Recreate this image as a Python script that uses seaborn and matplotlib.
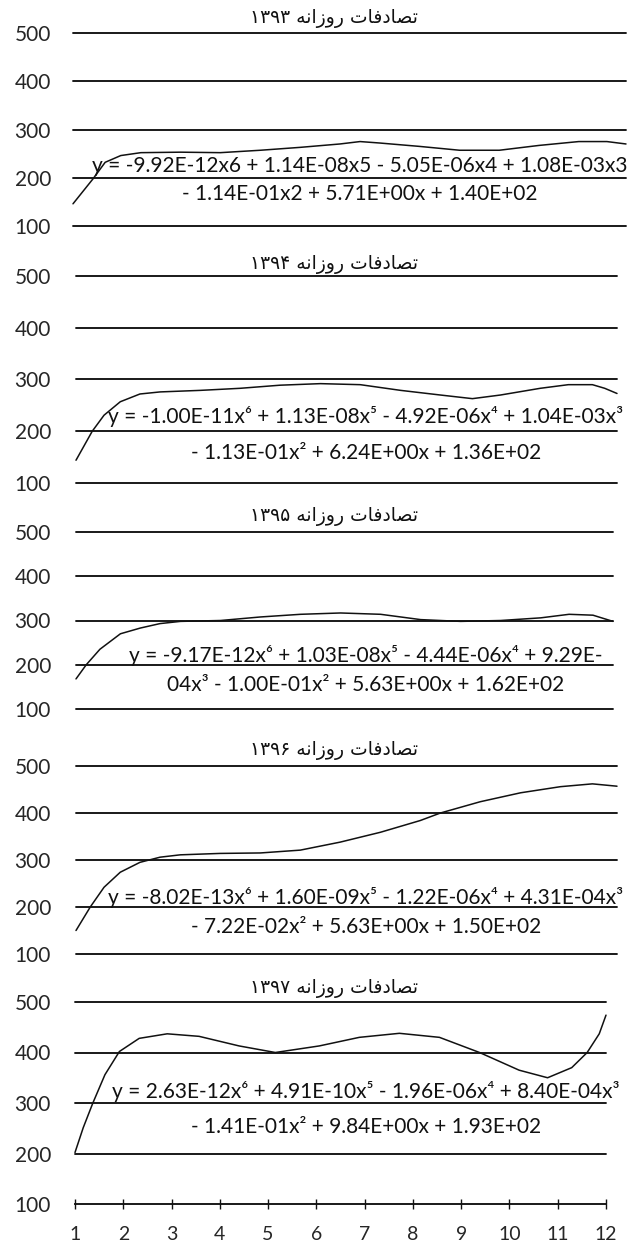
import matplotlib
matplotlib.use("Agg")
import matplotlib.pyplot as plt
import seaborn as sns
import pandas as pd

# ---------------- data ----------------
titles = [
    "تصادفات روزانه ۱۳۹۳",
    "تصادفات روزانه ۱۳۹۴",
    "تصادفات روزانه ۱۳۹۵",
    "تصادفات روزانه ۱۳۹۶",
    "تصادفات روزانه ۱۳۹۷",
]

eq_line1 = [
    "y = -9.92E-12x6 + 1.14E-08x5 - 5.05E-06x4 + 1.08E-03x3",
    "y = -1.00E-11x⁶ + 1.13E-08x⁵ - 4.92E-06x⁴ + 1.04E-03x³",
    "y = -9.17E-12x⁶ + 1.03E-08x⁵ - 4.44E-06x⁴ + 9.29E-",
    "y = -8.02E-13x⁶ + 1.60E-09x⁵ - 1.22E-06x⁴ + 4.31E-04x³",
    "y = 2.63E-12x⁶ + 4.91E-10x⁵ - 1.96E-06x⁴ + 8.40E-04x³",
]
eq_line2 = [
    "- 1.14E-01x2 + 5.71E+00x + 1.40E+02",
    "- 1.13E-01x² + 6.24E+00x + 1.36E+02",
    "04x³ - 1.00E-01x² + 5.63E+00x + 1.62E+02",
    "- 7.22E-02x² + 5.63E+00x + 1.50E+02",
    "- 1.41E-01x² + 9.84E+00x + 1.93E+02",
]

y_ticks = [100, 200, 300, 400, 500]
x_ticks = list(range(1, 13))

curve_1393_x = [1.0, 1.40, 1.64, 1.95, 2.35, 3.14, 3.93, 4.73, 5.52, 6.31, 6.71, 7.10, 7.89, 8.69, 9.48, 10.27, 11.06, 11.62, 12.0]
curve_1393_y = [146, 198, 232, 246, 252, 253, 252, 257, 263, 270, 275, 272, 265, 257, 257, 267, 275, 275, 270]

curve_1394_x = [1.0, 1.33, 1.57, 1.90, 2.30, 2.71, 3.53, 4.34, 5.15, 5.97, 6.78, 7.60, 8.41, 9.06, 9.63, 10.44, 11.01, 11.50, 11.75, 12.0]
curve_1394_y = [144, 200, 231, 257, 272, 276, 279, 283, 289, 292, 290, 279, 270, 263, 270, 283, 290, 290, 283, 273]

curve_1395_x = [1.0, 1.21, 1.49, 1.91, 2.32, 2.72, 3.14, 3.96, 4.78, 5.60, 6.42, 7.24, 8.06, 8.88, 9.70, 10.52, 11.10, 11.59, 12.0]
curve_1395_y = [168, 200, 235, 270, 283, 293, 298, 300, 308, 314, 317, 314, 302, 298, 300, 306, 314, 312, 298]

curve_1396_x = [1.0, 1.29, 1.57, 1.90, 2.30, 2.71, 3.12, 3.93, 4.75, 5.56, 6.37, 7.19, 8.00, 8.41, 9.22, 10.04, 10.85, 11.50, 12.0]
curve_1396_y = [150, 200, 242, 274, 295, 306, 311, 314, 315, 321, 338, 359, 384, 400, 424, 443, 456, 462, 457]

curve_1397_x = [1.0, 1.17, 1.37, 1.62, 1.92, 2.33, 2.91, 3.57, 4.40, 5.15, 6.06, 6.89, 7.72, 8.55, 9.38, 10.2, 10.79, 11.29, 11.61, 11.86, 12.0]
curve_1397_y = [202, 251, 300, 356, 402, 428, 437, 432, 413, 400, 413, 430, 438, 430, 400, 365, 350, 370, 400, 437, 474]

curves_x = [curve_1393_x, curve_1394_x, curve_1395_x, curve_1396_x, curve_1397_x]
curves_y = [curve_1393_y, curve_1394_y, curve_1395_y, curve_1396_y, curve_1397_y]

# ------------- minimal Arabic shaping (presentation forms) -------------
_FORMS = {
    'ا': (0xFE8D, 0xFE8E, None, None),
    'ت': (0xFE95, 0xFE96, 0xFE97, 0xFE98),
    'ص': (0xFEB9, 0xFEBA, 0xFEBB, 0xFEBC),
    'د': (0xFEA9, 0xFEAA, None, None),
    'ف': (0xFED1, 0xFED2, 0xFED3, 0xFED4),
    'ر': (0xFEAD, 0xFEAE, None, None),
    'و': (0xFEED, 0xFEEE, None, None),
    'ز': (0xFEAF, 0xFEB0, None, None),
    'ن': (0xFEE5, 0xFEE6, 0xFEE7, 0xFEE8),
    'ه': (0xFEE9, 0xFEEA, 0xFEEB, 0xFEEC),
}


def shape_word(w):
    out = []
    for i, ch in enumerate(w):
        f = _FORMS.get(ch)
        if f is None:
            out.append(ch)
            continue
        prev = w[i - 1] if i > 0 else None
        nxt = w[i + 1] if i < len(w) - 1 else None
        jp = prev in _FORMS and _FORMS[prev][2] is not None
        jn = nxt in _FORMS and f[2] is not None
        if jp and jn:
            code = f[3]
        elif jp:
            code = f[1]
        elif jn:
            code = f[2]
        else:
            code = f[0]
        out.append(chr(code))
    return "".join(out)


def visual(text):
    vis = []
    for t in text.split(" "):
        if any(c in _FORMS for c in t):
            vis.append(shape_word(t)[::-1])
        else:
            vis.append(t)
    return " ".join(vis[::-1])


# ---------------- layout ----------------
W, H, DPI = 628, 1243, 100
sns.set_theme(style="white")
plt.rcParams["font.family"] = ["Lato", "DejaVu Sans"]

panels = [  # pixel geometry: x of month 1, x of month 12, y of 500, y of 100
    (73, 626, 33, 226),
    (76, 617, 276, 483),
    (76, 613, 532, 709),
    (76, 617, 766, 954),
    (75, 606, 1002, 1204),
]
title_y = [19, 264, 517, 750, 989]
eq_y = [(166, 194), (416, 453), (655, 685), (897, 927), (1092, 1127)]
eq_x = [360, 366, 366, 366, 366]
title_x = 334

fig = plt.figure(figsize=(W / DPI, H / DPI), dpi=DPI)
fig.patch.set_facecolor("white")

for i, (x0, x1, y5, y1) in enumerate(panels):
    ax = fig.add_axes([x0 / W, 1 - y1 / H, (x1 - x0) / W, (y1 - y5) / H])
    ax.set_facecolor("none")
    ax.set_xlim(1, 12)
    ax.set_ylim(100, 500)
    for s in ax.spines.values():
        s.set_visible(False)
    last = i == len(panels) - 1
    for v in y_ticks:
        if last and v == 100:
            continue
        ax.axhline(v, color="#111111", lw=1.35, clip_on=False, zorder=1)

    df = pd.DataFrame({"month": curves_x[i], "value": curves_y[i]})
    sns.lineplot(data=df, x="month", y="value", ax=ax, color="#111111",
                 lw=1.1, sort=False, estimator=None, zorder=3)
    for ln in ax.lines:
        ln.set_clip_on(False)

    ax.set_yticks(y_ticks)
    ax.set_yticklabels([str(v) for v in y_ticks])
    ax.tick_params(axis="y", length=0, pad=(x0 - 51) * 72 / DPI,
                   labelsize=15, labelcolor="#262626")
    ax.set_xlabel("")
    ax.set_ylabel("")
    if last:
        ax.spines["bottom"].set_visible(True)
        ax.spines["bottom"].set_color("#111111")
        ax.spines["bottom"].set_linewidth(1.35)
        ax.set_xticks(x_ticks)
        ax.set_xticklabels([str(v) for v in x_ticks])
        ax.tick_params(axis="x", bottom=True, direction="inout", length=7,
                       width=1.0, color="#111111", pad=12,
                       labelsize=14, labelcolor="#262626")
    else:
        ax.set_xticks([])

    fig.text(title_x / W, 1 - title_y[i] / H, visual(titles[i]),
             ha="center", va="center", fontsize=13.5,
             family=["DejaVu Sans", "Noto Sans"], color="#111111")
    fig.text(eq_x[i] / W, 1 - eq_y[i][0] / H, eq_line1[i], ha="center",
             va="center", fontsize=15, color="#111111", zorder=5)
    fig.text(eq_x[i] / W, 1 - eq_y[i][1] / H, eq_line2[i], ha="center",
             va="center", fontsize=15, color="#111111", zorder=5)

fig.savefig("out.png", dpi=DPI, facecolor="white")
